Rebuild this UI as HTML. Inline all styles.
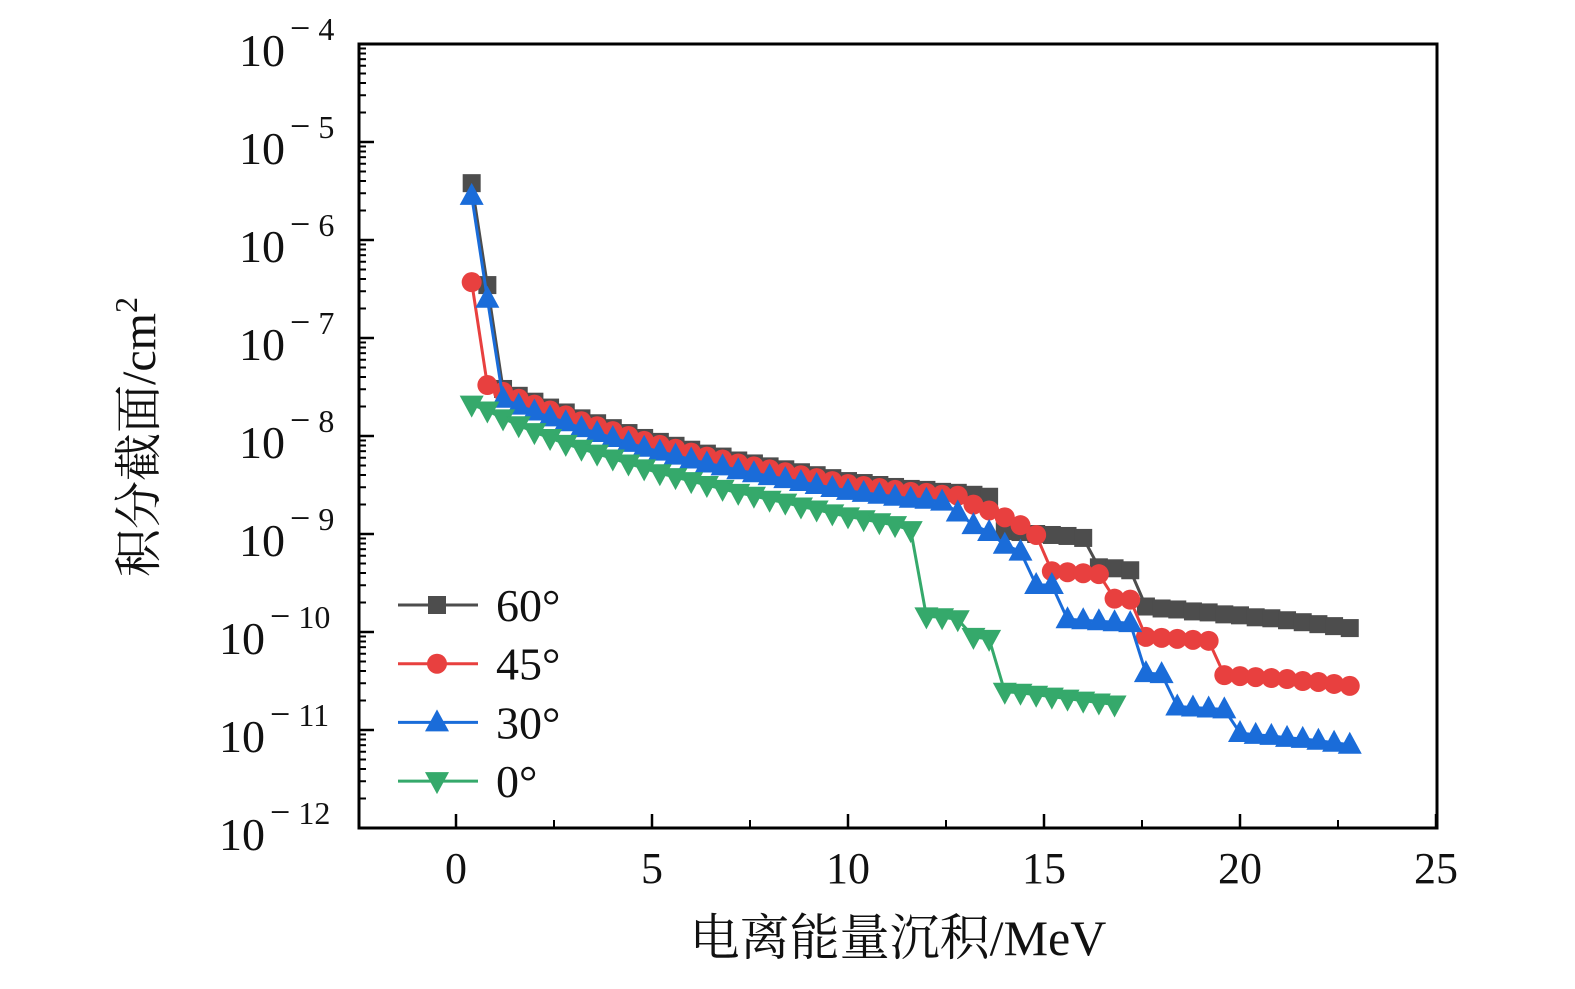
<!DOCTYPE html>
<html><head><meta charset="utf-8"><style>
body{margin:0;background:#fff;}
svg text{font-family:"Liberation Serif","Noto Serif CJK SC",serif;fill:#111;}
</style></head><body>
<svg id="chart" width="1575" height="984" viewBox="0 0 1575 984" xmlns="http://www.w3.org/2000/svg">
<g id="axes"></g>
<g id="series"></g>
<g id="legend"></g>
</svg>
<script>
const xs60 = [0.4,0.8,1.2,1.6,2.0,2.4,2.8,3.2,3.6,4.0,4.4,4.8,5.2,5.6,6.0,6.4,6.8,7.2,7.6,8.0,8.4,8.8,9.2,9.6,10.0,10.4,10.8,11.2,11.6,12.0,12.4,12.8,13.2,13.6,14.0,14.4,14.8,15.2,15.6,16.0,16.4,16.8,17.2,17.6,18.0,18.4,18.8,19.2,19.6,20.0,20.4,20.8,21.2,21.6,22.0,22.4,22.8];
const xs0 = [0.4,0.8,1.2,1.6,2.0,2.4,2.8,3.2,3.6,4.0,4.4,4.8,5.2,5.6,6.0,6.4,6.8,7.2,7.6,8.0,8.4,8.8,9.2,9.6,10.0,10.4,10.8,11.2,11.6,12.0,12.4,12.8,13.2,13.6,14.0,14.4,14.8,15.2,15.6,16.0,16.4,16.8];
const log60 = [-5.42,-6.46,-7.52,-7.59,-7.65,-7.71,-7.76,-7.82,-7.87,-7.92,-7.97,-8.02,-8.06,-8.10,-8.14,-8.18,-8.21,-8.25,-8.28,-8.31,-8.34,-8.37,-8.40,-8.43,-8.46,-8.48,-8.50,-8.52,-8.54,-8.55,-8.57,-8.58,-8.60,-8.62,-8.97,-8.98,-9.00,-9.01,-9.02,-9.04,-9.34,-9.35,-9.37,-9.74,-9.76,-9.77,-9.79,-9.80,-9.82,-9.83,-9.85,-9.86,-9.88,-9.90,-9.92,-9.94,-9.96];
const log45 = [-6.43,-7.48,-7.55,-7.62,-7.68,-7.74,-7.79,-7.85,-7.90,-7.95,-8.00,-8.05,-8.09,-8.13,-8.17,-8.21,-8.24,-8.28,-8.31,-8.34,-8.37,-8.40,-8.43,-8.46,-8.49,-8.51,-8.53,-8.55,-8.57,-8.58,-8.60,-8.61,-8.70,-8.76,-8.83,-8.91,-9.01,-9.38,-9.39,-9.40,-9.41,-9.66,-9.67,-10.05,-10.06,-10.07,-10.08,-10.09,-10.44,-10.45,-10.46,-10.47,-10.48,-10.50,-10.51,-10.53,-10.55];
const log30 = [-5.55,-6.60,-7.62,-7.69,-7.75,-7.81,-7.86,-7.92,-7.97,-8.02,-8.07,-8.12,-8.16,-8.20,-8.24,-8.28,-8.31,-8.35,-8.38,-8.41,-8.44,-8.47,-8.50,-8.53,-8.56,-8.58,-8.60,-8.62,-8.64,-8.65,-8.67,-8.78,-8.91,-8.98,-9.11,-9.18,-9.52,-9.52,-9.87,-9.88,-9.89,-9.90,-9.91,-10.42,-10.43,-10.76,-10.77,-10.78,-10.79,-11.03,-11.05,-11.06,-11.08,-11.09,-11.11,-11.13,-11.15];
const log0 = [-7.68,-7.74,-7.82,-7.89,-7.96,-8.02,-8.08,-8.13,-8.18,-8.23,-8.28,-8.33,-8.38,-8.42,-8.46,-8.50,-8.54,-8.58,-8.61,-8.65,-8.68,-8.72,-8.75,-8.79,-8.82,-8.85,-8.88,-8.91,-8.96,-9.84,-9.85,-9.87,-10.05,-10.07,-10.61,-10.62,-10.64,-10.66,-10.68,-10.70,-10.72,-10.74];
const xTicks = [0,5,10,15,20,25];
const yExps = [-4,-5,-6,-7,-8,-9,-10,-11,-12];
const legendLabels = ["60°","45°","30°","0°"];

const NS="http://www.w3.org/2000/svg";
const L=359,R=1437,T=44,B=828;
const X=v=>456+(v-0)*39.2;
const Y=lg=>T+(-4-lg)*98;
function mk(tag,attrs,parent){const e=document.createElementNS(NS,tag);for(const k in attrs)e.setAttribute(k,attrs[k]);parent.appendChild(e);return e;}
const axes=document.getElementById('axes');
const frame=mk('rect',{x:L,y:T,width:R-L,height:B-T,fill:'none',stroke:'#000','stroke-width':3},axes);


xTicks.forEach(t=>{
  const tk=mk('line',{x1:X(t),x2:X(t),y1:B,y2:B-14,stroke:'#000','stroke-width':2.5},axes);
  
  
  const tx=mk('text',{x:X(t),y:883,'font-size':44,'text-anchor':'middle'},axes);
  tx.textContent=t;
  
  
});
[2.5,7.5,12.5,17.5,22.5].forEach(t=>{
  const tk=mk('line',{x1:X(t),x2:X(t),y1:B,y2:B-8,stroke:'#000','stroke-width':2},axes);
  
  
});
yExps.forEach(e=>{
  const y=Y(e);
  const tk=mk('line',{x1:L,x2:L+15,y1:y,y2:y,stroke:'#000','stroke-width':2.5},axes);
  
  
  const big=e<=-10;
  const tx=mk('text',{x:big?265:285,y:y+22,'font-size':46,'text-anchor':'end'},axes);
  tx.textContent='10';
  
  
  const sp=mk('text',{x:big?270:290,y:y-4,'font-size':32,'text-anchor':'start'},axes);
  sp.innerHTML='<tspan font-size="36">\u2212</tspan> '+(-e);
  
  
  if(e>-12){for(let m=2;m<=9;m++){const yy=Y(e-1+Math.log10(m));
    const mt=mk('line',{x1:L,x2:L+7,y1:yy,y2:yy,stroke:'#000','stroke-width':2},axes);
    
    }}
});
const xl=mk('text',{x:898,y:955,'font-size':50,'text-anchor':'middle'},axes);
xl.textContent='电离能量沉积/MeV';


const yl=mk('text',{x:0,y:0,'font-size':48,'text-anchor':'middle',transform:'translate(155,437) rotate(-90)'},axes);
yl.innerHTML='积分截面/cm<tspan dy="-18" font-size="32">2</tspan>';



const series=document.getElementById('series');
function marker(type,x,y,color,g){
  let e;
  if(type==='sq') e=mk('rect',{x:x-9,y:y-9,width:18,height:18,fill:color},g);
  else if(type==='ci') e=mk('circle',{cx:x,cy:y,r:10,fill:color},g);
  else if(type==='up') e=mk('polygon',{points:`${x},${y-13} ${x-12},${y+9} ${x+12},${y+9}`,fill:color},g);
  else e=mk('polygon',{points:`${x},${y+13} ${x-12},${y-9} ${x+12},${y-9}`,fill:color},g);
  return e;
}
const defs=[
  {name:'60',xs:xs60,ys:log60,c:'#4d4d4d',m:'sq'},
  {name:'45',xs:xs60,ys:log45,c:'#e8403f',m:'ci'},
  {name:'30',xs:xs60,ys:log30,c:'#1a6cd9',m:'up'},
  {name:'0',xs:xs0,ys:log0,c:'#35a96b',m:'dn'}
];
defs.forEach(s=>{
  const g=mk('g',{},series);
  
  
  const pts=s.xs.map((x,i)=>X(x)+','+Y(s.ys[i])).join(' ');
  const ln=mk('polyline',{points:pts,fill:'none',stroke:s.c,'stroke-width':3},g);
  
  
  s.xs.forEach((x,i)=>{
    const p=marker(s.m,X(x),Y(s.ys[i]),s.c,g);
    
    
  });
});
const lg=document.getElementById('legend');
defs.forEach((s,i)=>{
  const y=605+i*58.7;
  const g=mk('g',{},lg);
  
  
  mk('line',{x1:398,x2:478,y1:y,y2:y,stroke:s.c,'stroke-width':3},g);
  marker(s.m,437,y,s.c,g);
  const t=mk('text',{x:496,y:y+16,'font-size':46},g);
  t.textContent=legendLabels[i];
});
</script>
</body></html>
